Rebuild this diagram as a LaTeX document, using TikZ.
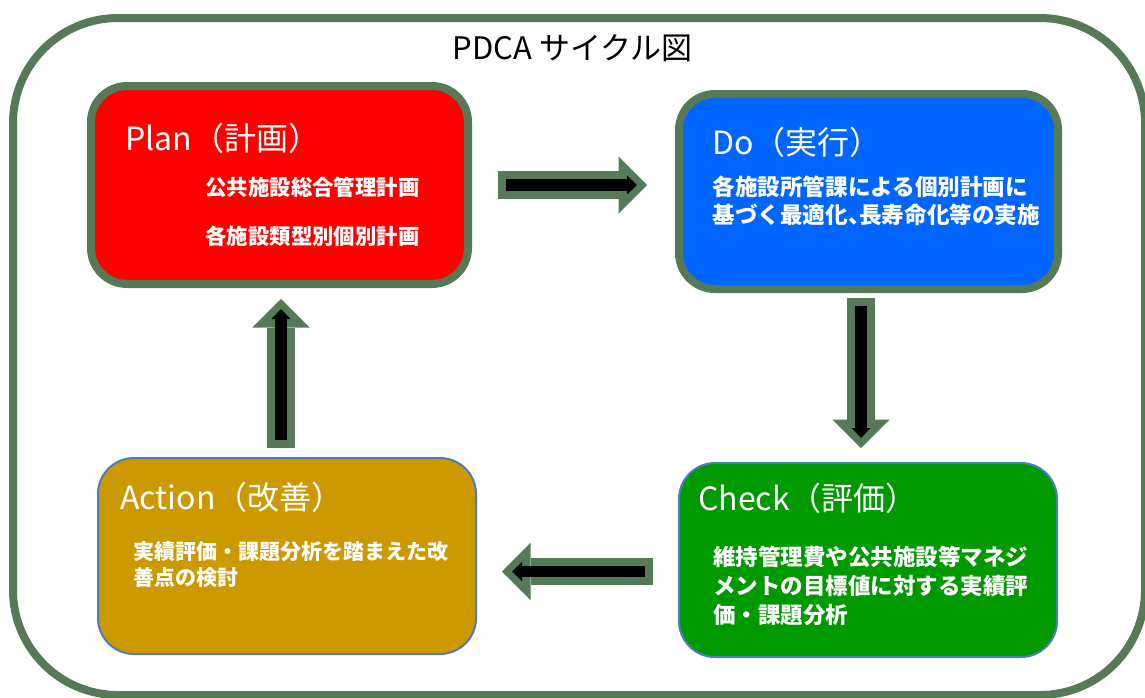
\documentclass[tikz,border=0pt]{standalone}
\usepackage{fontspec}
\setmainfont{Noto Sans CJK JP}
\usetikzlibrary{arrows.meta,calc}
\definecolor{framegreen}{HTML}{567A57}
\definecolor{planred}{HTML}{FF0000}
\definecolor{doblue}{HTML}{0066FF}
\definecolor{checkgreen}{HTML}{009900}
\definecolor{actgold}{HTML}{CC9900}
\definecolor{edgeblue}{HTML}{4A7EBB}
\tikzset{
  stagebox/.style={rectangle, rounded corners=18pt, inner sep=0pt},
  thickedge/.style={draw=framegreen, line width=4pt},
  thinedge/.style={draw=edgeblue, line width=1pt},
  stagetitle/.style={anchor=west, inner sep=0pt, text=white, font=\fontsize{16}{19}\selectfont},
  stagetext/.style={anchor=west, inner sep=0pt, text=white, align=left},
  bigarrow/.style={draw=framegreen, line width=13.75pt, -{Triangle[length=14.25pt,width=28.75pt,line width=0pt]}},
  innerarrow/.style={draw=black, line width=5.75pt, -{Triangle[length=5pt,width=9.5pt,line width=0pt]}}
}
\begin{document}
\begin{tikzpicture}[x=0.5pt,y=-0.5pt]
\useasboundingbox (0,0) rectangle (1145,697);
% outer frame
\draw[framegreen, line width=4pt, rounded corners=52.5pt] (13,18) rectangle (1145,695);
\node (title) at (572.5,48) {\fontsize{15.5}{18}\selectfont PDCA サイクル図};
% the four stages
\node[stagebox, thickedge, fill=planred, minimum width=188.5pt, minimum height=99pt] (plan) at (279.5,185) {};
\node[stagebox, thickedge, fill=doblue, minimum width=189.5pt, minimum height=97.5pt] (do) at (868.5,191.5) {};
\node[stagebox, thinedge, fill=checkgreen, minimum width=189pt, minimum height=97pt] (check) at (868,560) {};
\node[stagebox, thinedge, fill=actgold, minimum width=189pt, minimum height=98pt] (act) at (287,556) {};
\node[stagetitle] (plantitle) at (125,138) {Plan（計画）};
\node[stagetext, font=\bfseries\fontsize{10.7}{24.5}\selectfont] (plantext) at (205,211.5) {公共施設総合管理計画\\各施設類型別個別計画};
\node[stagetitle] (dotitle) at (712,142) {Do（実行）};
\node[stagetext, font=\bfseries\fontsize{11.3}{14}\selectfont] (dotext) at (712,201) {各施設所管課による個別計画に\\基づく最適化、\kern-0.5em 長寿命化等の実施};
\node[stagetitle] (checktitle) at (698,498) {Check（評価）};
\node[stagetext, font=\bfseries\fontsize{11.25}{14.5}\selectfont] (checktext) at (713,586) {維持管理費や公共施設等マネジ\\メントの目標値に対する実績評\\価・課題分析};
\node[stagetitle] (acttitle) at (120,497) {Action（改善）};
\node[stagetext, font=\bfseries\fontsize{10.5}{13}\selectfont] (acttext) at (133,565) {実績評価・課題分析を踏まえた改\\善点の検討};
% block arrows
\coordinate (pdA) at (plan.east);
\coordinate (pdB) at (plan.east -| do.west);
\coordinate (dcA) at ($(do.south)+(-7.5,0)$);
\coordinate (dcB) at (dcA |- check.north);
\coordinate (caA) at ($(check.west)+(0,11.5)$);
\coordinate (caB) at (caA -| act.east);
\coordinate (apA) at ($(act.north)+(-6,0)$);
\coordinate (apB) at (apA |- plan.south);
\foreach \a/\b/\s/\e in {pdA/pdB/13/14, dcA/dcB/2.5/7, caA/caB/12.5/12.5, apA/apB/4.5/5.5} {
  \draw[bigarrow, shorten <=\s pt, shorten >=\e pt] (\a) -- (\b);
  \draw[innerarrow, shorten <=\s pt+4pt, shorten >=\e pt+5pt] (\a) -- (\b);
}
\end{tikzpicture}
\end{document}
